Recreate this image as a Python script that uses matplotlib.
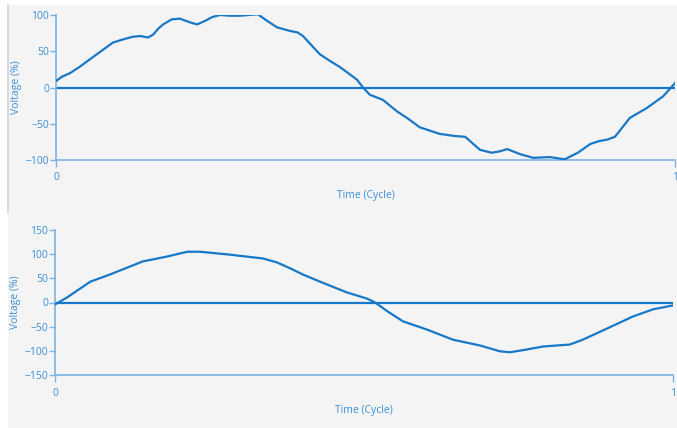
import matplotlib
matplotlib.use("Agg")
from matplotlib import pyplot as plt
from matplotlib.patches import Rectangle
from matplotlib.lines import Line2D

# distorted waveform, one cycle
t_top = [0.000, 0.010, 0.023, 0.039, 0.055, 0.071, 0.092, 0.111, 0.124, 0.136,
         0.149, 0.157, 0.165, 0.173, 0.187, 0.200, 0.216, 0.228, 0.241, 0.252,
         0.265, 0.281, 0.297, 0.312, 0.326, 0.341, 0.357, 0.378, 0.390, 0.399,
         0.413, 0.426, 0.442, 0.459, 0.486, 0.496, 0.507, 0.528, 0.551, 0.567,
         0.588, 0.620, 0.645, 0.661, 0.673, 0.685, 0.704, 0.717, 0.729, 0.750,
         0.771, 0.798, 0.822, 0.843, 0.863, 0.877, 0.890, 0.903, 0.915, 0.927,
         0.955, 0.981, 1.000]
v_top = [9, 15, 20, 29, 39, 49, 62, 67, 70, 71,
         69, 73, 81, 87, 94, 95, 90, 87, 92, 97,
         100, 99, 99, 100, 101, 92, 83, 78, 76, 71,
         58, 46, 37, 28, 11, 0, -10, -17, -33, -42,
         -55, -64, -67, -68, -77, -86, -90, -88, -85, -92,
         -97, -96, -99, -90, -78, -74, -72, -68, -55, -42,
         -28, -12, 6]

# fundamental-ish waveform, one cycle
t_bot = [0.000, 0.019, 0.057, 0.089, 0.142, 0.181, 0.214, 0.235, 0.283, 0.337,
         0.359, 0.380, 0.401, 0.429, 0.472, 0.505, 0.518, 0.540, 0.563, 0.602,
         0.644, 0.688, 0.720, 0.736, 0.760, 0.790, 0.833, 0.854, 0.893, 0.935,
         0.968, 1.000]
v_bot = [-4, 10, 43, 58, 85, 95, 105, 105, 99, 91,
         83, 71, 58, 43, 21, 8, 0, -20, -39, -56,
         -77, -89, -101, -103, -98, -91, -87, -77, -54, -29,
         -14, -6]

top_ticks = [-100, -50, 0, 50, 100]
bot_ticks = [-150, -100, -50, 0, 50, 100, 150]

line_c = "#1878c8"
axis_c = "#7ab4e6"
text_c = "#3c8fd8"
bg = "#f4f4f4"

plt.rcParams["font.family"] = ["Open Sans", "DejaVu Sans"]

W, H = 677, 428
fig = plt.figure(figsize=(W / 100, H / 100), dpi=100)
fig.patch.set_facecolor("white")
fig.patches.append(Rectangle((8 / W, 0), 1, 1 - 5 / H, transform=fig.transFigure,
                             facecolor=bg, edgecolor="none", zorder=-10))
fig.lines.append(Line2D([8 / W, 8 / W], [1 - 213 / H, 1 - 5 / H], transform=fig.transFigure,
                        color="#d4d2e4", lw=1.2))


def panel(rect, t, v, ylim, yticks, label_x):
    ax = fig.add_axes(rect)
    ax.set_facecolor(bg)
    ax.plot(t, v, color=line_c, lw=1.6, zorder=3, solid_joinstyle="round")
    ax.axhline(0, color=line_c, lw=1.6, zorder=2)
    ax.set_xlim(0, 1)
    ax.set_ylim(*ylim)
    ax.set_yticks(yticks)
    ax.set_xticks([0, 1])
    ax.set_xticklabels(["0", "1"])
    for s in ("top", "right"):
        ax.spines[s].set_visible(False)
    for s in ("left", "bottom"):
        ax.spines[s].set_color(axis_c)
        ax.spines[s].set_linewidth(1.2)
    ax.tick_params(axis="both", colors=axis_c, labelcolor=text_c, labelsize=7.5,
                   length=4, width=1)
    ax.tick_params(axis="x", length=5, pad=4)
    ax.tick_params(axis="y", pad=1)
    ax.set_ylabel("Voltage (%)", color=text_c, fontsize=7.5)
    ax.yaxis.set_label_coords(label_x, 0.5)
    ax.set_xlabel("Time (Cycle)", color=text_c, fontsize=7.5, labelpad=5)
    return ax


panel([56 / W, 1 - 160 / H, 619 / W, 145 / H], t_top, v_top, (-100, 100), top_ticks,
      (22 - 56) / 619)
panel([55 / W, 1 - 375 / H, 618 / W, 145 / H], t_bot, v_bot, (-150, 150), bot_ticks,
      (21 - 55) / 618)

fig.savefig("out.png", dpi=100)
